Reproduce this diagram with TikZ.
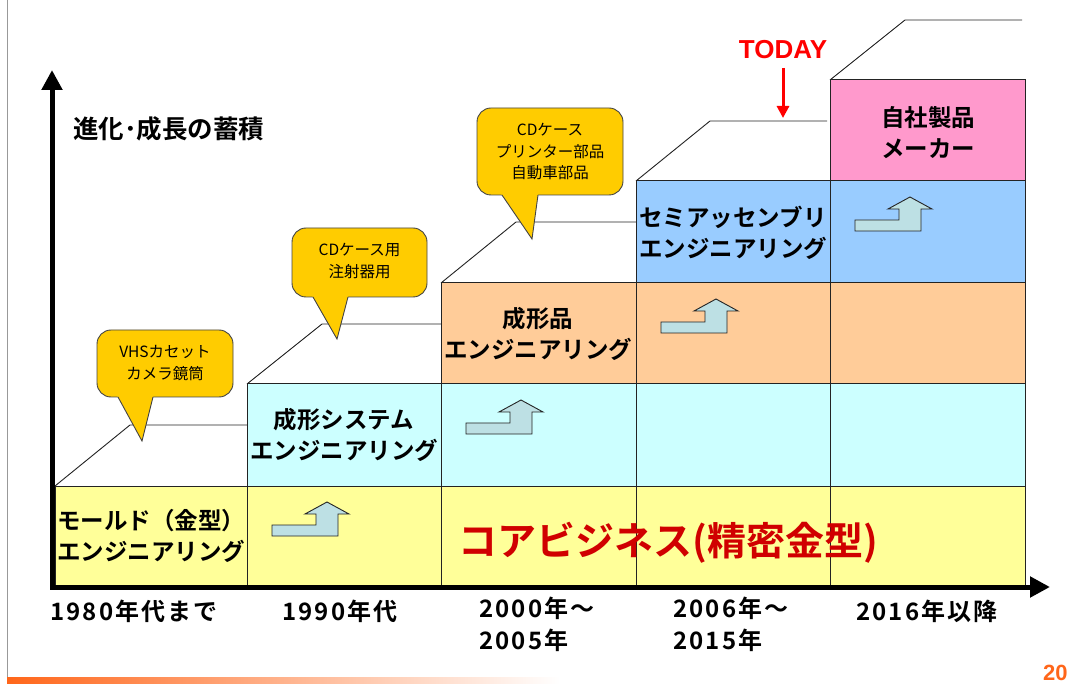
\documentclass[tikz,border=0pt]{standalone}
\usepackage{fontspec}
\setmainfont{Noto Sans CJK JP}[BoldFont={Noto Sans CJK JP Bold}]
\newfontfamily\latinfont{Liberation Sans}
\usetikzlibrary{arrows.meta}
\definecolor{cyellow}{RGB}{255,255,153}
\definecolor{ccyan}{RGB}{204,255,255}
\definecolor{cpeach}{RGB}{255,204,153}
\definecolor{cblue}{RGB}{153,204,255}
\definecolor{cpink}{RGB}{255,153,204}
\definecolor{ccallout}{RGB}{255,204,0}
\definecolor{cstep}{RGB}{189,224,228}
\definecolor{credtext}{RGB}{208,0,0}
\definecolor{ctoday}{RGB}{255,0,0}
\definecolor{cedge}{RGB}{35,35,35}
\definecolor{corange}{RGB}{255,102,26}
\tikzset{
  cell/.style={draw=cedge, line width=1pt, fill=#1},
  stair/.style={draw=cedge, line width=0.9pt},
  stepshape/.style={draw=cedge, line width=0.9pt, fill=cstep, line join=miter},
  steparrow/.pic={\path[stepshape] (25,39) -- (69,39) -- (69,28) -- (58,28) -- (80,16) -- (102,28) -- (91,28) -- (91,50) -- (25,50) -- cycle;},
  boxlabel/.style={font=\fontsize{23.5}{31}\selectfont\bfseries, align=center, inner sep=0pt},
  yearlabel/.style={font=\fontsize{24}{32}\selectfont\bfseries\addfontfeatures{LetterSpace=9}, align=left, inner sep=0pt},
  calloutbox/.style={draw=cedge!85, line width=0.9pt, fill=ccallout, rounded corners=14pt},
  callouttext/.style={font=\fontsize{15.5}{22}\selectfont, align=center, inner sep=0pt},
  axisline/.style={line width=5pt, line join=miter, {Triangle[length=20pt,width=20pt]}-{Triangle[length=20pt,width=20pt]}},
}
\begin{document}
\begin{tikzpicture}[x=1pt,y=-1pt]
\useasboundingbox (0,0) rectangle (1071,684);
\fill[white] (0,0) rectangle (1071,684);
% page decorations
\draw[gray!80, line width=1pt] (7,0) -- (7,677);
\shade[left color=corange, right color=white] (7,677) rectangle (560,684);
\node[anchor=north west, inner sep=0pt, text=corange, font=\latinfont\fontsize{22}{22}\selectfont\bfseries] (pagenum) at (1043,665) {20};

% stair lines
\draw[stair] (55,486) -- (130,425) -- (247,425);
\draw[stair] (247,384) -- (322,324) -- (441,324);
\draw[stair] (441,283) -- (516,222) -- (636,222);
\draw[stair] (636,181) -- (710,121) -- (827,121);
\draw[stair] (830,80) -- (905,20) -- (1022,20);

% cells: bottom row
\draw[cell=cyellow] (55,486) rectangle (247,585);
\draw[cell=cyellow] (247,486) rectangle (441,585);
\draw[cell=cyellow] (441,486) rectangle (636,585);
\draw[cell=cyellow] (636,486) rectangle (830,585);
\draw[cell=cyellow] (830,486) rectangle (1025,585);
% second row
\draw[cell=ccyan] (247,384) rectangle (441,486);
\draw[cell=ccyan] (441,384) rectangle (636,486);
\draw[cell=ccyan] (636,384) rectangle (830,486);
\draw[cell=ccyan] (830,384) rectangle (1025,486);
% third row
\draw[cell=cpeach] (441,283) rectangle (636,384);
\draw[cell=cpeach] (636,283) rectangle (830,384);
\draw[cell=cpeach] (830,283) rectangle (1025,384);
% fourth row
\draw[cell=cblue] (636,181) rectangle (830,283);
\draw[cell=cblue] (830,181) rectangle (1025,283);
% fifth row
\draw[cell=cpink] (830,80) rectangle (1025,181);

% step arrows
\pic at (247,486) {steparrow};
\pic at (441,384) {steparrow};
\pic at (636,283) {steparrow};
\pic at (830,181) {steparrow};

% cell labels
\node[boxlabel] (mold) at (151,536) {モールド（金型）\\エンジニアリング};
\node[boxlabel] (system) at (344,435) {成形システム\\エンジニアリング};
\node[boxlabel] (product) at (538,334) {成形品\\エンジニアリング};
\node[boxlabel] (assembly) at (733,233) {セミアッセンブリ\\エンジニアリング};
\node[boxlabel] (maker) at (928,133) {自社製品\\メーカー};
\node[inner sep=0pt, text=credtext, font=\fontsize{39}{40}\selectfont\bfseries] (core) at (668,543) {コアビジネス(精密金型)};

% axes
\coordinate (ytip) at (52,70);
\coordinate (corner) at (52,587);
\coordinate (xtip) at (1050,587);
\draw[axisline] (ytip) -- (corner) -- (xtip);
\node[anchor=west, inner sep=0pt, font=\fontsize{25.5}{26}\selectfont\bfseries] (ylabel) at (73,129) {進化･成長の蓄積};

% year labels
\node[yearlabel] (y1980) at (134,611) {1980年代まで};
\node[yearlabel] (y1990) at (340,611) {1990年代};
\node[yearlabel, anchor=north west] (y2000) at (479,597) {2000年～\\2005年};
\node[yearlabel, anchor=north west] (y2006) at (673,597) {2006年～\\2015年};
\node[yearlabel] (y2016) at (927,611) {2016年以降};

% callouts
\draw[calloutbox] (97,330) rectangle (233,397);
\fill[ccallout] (115.8,393) -- (142,441) -- (154,393) -- cycle;
\draw[draw=cedge!85, line width=0.9pt] (118,397) -- (142,441) -- (153,397);
\node[callouttext] (call1) at (165,363) {VHSカセット\\カメラ鏡筒};

\draw[calloutbox] (292,228) rectangle (427,297);
\fill[ccallout] (310.7,293) -- (337,339) -- (349,293) -- cycle;
\draw[draw=cedge!85, line width=0.9pt] (313,297) -- (337,339) -- (348,297);
\node[callouttext] (call2) at (359.5,261) {CDケース用\\注射器用};

\draw[calloutbox] (477,108) rectangle (623,195);
\fill[ccallout] (499.3,191) -- (532,239) -- (538.5,191) -- cycle;
\draw[draw=cedge!85, line width=0.9pt] (502,195) -- (532,239) -- (538,195);
\node[callouttext, font=\fontsize{15.5}{21.5}\selectfont] (call3) at (550,152) {CDケース\\プリンター部品\\自動車部品};

% TODAY marker
\node[inner sep=0pt, text=ctoday, font=\latinfont\fontsize{26}{28}\selectfont\bfseries] (today) at (783,50) {TODAY};
\coordinate (todaystart) at (783,68);
\coordinate (todaytip) at (783,118);
\draw[ctoday, line width=3pt, -{Triangle[length=12pt,width=12pt]}] (todaystart) -- (todaytip);
\end{tikzpicture}
\end{document}
